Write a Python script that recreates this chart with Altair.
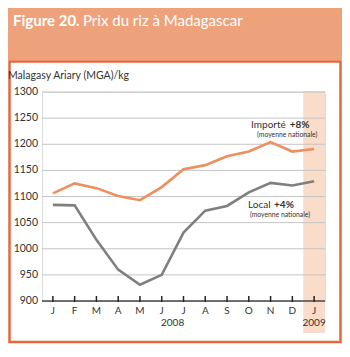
import altair as alt
import pandas as pd

months = ["J", "F", "M", "A", "M", "J", "J", "A", "S", "O", "N", "D", "J"]
imported = [1106, 1125, 1116, 1101, 1093, 1118, 1152, 1160, 1177, 1186, 1204, 1186, 1191]
local = [1084, 1083, 1017, 960, 931, 950, 1031, 1073, 1082, 1108, 1126, 1121, 1129]
y_ticks = [900, 950, 1000, 1050, 1100, 1150, 1200, 1250, 1300]
years = ["2008", "2009"]
year_pos = [5.5, 12]

FONT = "Lato"
HEADER = "#EDA27C"
BORDER = "#E4683A"
SHADE = "#F9DCCA"
ORANGE = "#EF8E5E"
GRAY = "#7F7F7F"
TXT = "#333333"

W, H = 283, 209

idx = list(range(len(months)))
lines_df = pd.DataFrame({
    "i": idx * 2,
    "v": imported + local,
    "s": ["Importé"] * len(idx) + ["Local"] * len(idx),
})

xscale = alt.Scale(domain=[-0.5, 12.5], nice=False, zero=False)
yscale = alt.Scale(domain=[900, 1300], nice=False, zero=False)

one = pd.DataFrame({"a": [0]})

header = alt.Chart(one).mark_rect(color=HEADER).encode(
    x=alt.value(-34), x2=alt.value(300), y=alt.value(-84), y2=alt.value(-32))
frame = alt.Chart(one).mark_rect(filled=False, stroke=BORDER, strokeWidth=2.5).encode(
    x=alt.value(-32.5), x2=alt.value(298.5), y=alt.value(-30.5), y2=alt.value(250))

shade = alt.Chart(pd.DataFrame({"x0": [11.5], "x1": [12.5]})).mark_rect(color=SHADE).encode(
    x=alt.X("x0:Q", scale=xscale, axis=None), x2="x1:Q",
    y=alt.value(-1), y2=alt.value(241))

grid = alt.Chart(pd.DataFrame({"g": y_ticks[1:]})).mark_rule(color="#C4C4C4", strokeWidth=1).encode(
    y=alt.Y("g:Q", scale=yscale, axis=None), x=alt.value(0), x2=alt.value(W))

base = alt.Chart(pd.DataFrame({"g": y_ticks[:1]})).mark_rule(color="#444444", strokeWidth=1.5).encode(
    y=alt.Y("g:Q", scale=yscale, axis=None), x=alt.value(0), x2=alt.value(W))

ticks = alt.Chart(pd.DataFrame({"i": idx})).mark_rule(color="#222222", strokeWidth=1.5).encode(
    x=alt.X("i:Q", scale=xscale, axis=None), y=alt.value(204), y2=alt.value(210))

xlab = alt.Chart(pd.DataFrame({"i": idx, "t": months})).mark_text(
    align="center", baseline="middle", fontSize=10, color=TXT, font=FONT).encode(
    x=alt.X("i:Q", scale=xscale, axis=None), y=alt.value(219), text="t:N")

ylab = alt.Chart(pd.DataFrame({"g": y_ticks})).mark_text(
    align="right", baseline="middle", fontSize=10.5, color=TXT, font=FONT).encode(
    y=alt.Y("g:Q", scale=yscale, axis=None), x=alt.value(-4), text="g:Q")

lines = alt.Chart(lines_df).mark_line(strokeWidth=2.6).encode(
    x=alt.X("i:Q", scale=xscale, axis=None),
    y=alt.Y("v:Q", scale=yscale, axis=None),
    color=alt.Color("s:N", scale=alt.Scale(domain=["Importé", "Local"], range=[ORANGE, GRAY]),
                    legend=None),
)

ann_n = pd.DataFrame({"x": [10.7, 10.0], "y": [1231, 1078], "t": ["Importé", "Local"]})
ann_b = pd.DataFrame({"x": [10.88, 10.16], "y": [1231, 1078], "t": ["+8%", "+4%"]})
annn = alt.Chart(ann_n).mark_text(align="right", baseline="alphabetic", fontSize=10,
                                  color=TXT, font=FONT).encode(
    x=alt.X("x:Q", scale=xscale, axis=None), y=alt.Y("y:Q", scale=yscale, axis=None), text="t:N")
annb = alt.Chart(ann_b).mark_text(align="left", baseline="alphabetic", fontSize=10,
                                  fontWeight="bold", color=TXT, font=FONT).encode(
    x=alt.X("x:Q", scale=xscale, axis=None), y=alt.Y("y:Q", scale=yscale, axis=None), text="t:N")

sub_df = pd.DataFrame({"x": [9.38, 9.05], "y": [1217.5, 1064], "t": ["(moyenne nationale)"] * 2})
sub = alt.Chart(sub_df).mark_text(align="left", baseline="middle", fontSize=6.8,
                                  color=TXT, font=FONT).encode(
    x=alt.X("x:Q", scale=xscale, axis=None), y=alt.Y("y:Q", scale=yscale, axis=None),
    text="t:N")

yr = alt.Chart(pd.DataFrame({"x": year_pos, "t": years})).mark_text(
    align="center", baseline="middle", fontSize=10, color=TXT, font=FONT).encode(
    x=alt.X("x:Q", scale=xscale, axis=None), y=alt.value(231), text="t:N")

ytitle = alt.Chart(one).mark_text(align="left", baseline="middle", fontSize=10.5,
                                  color=TXT, font=FONT, text="Malagasy Ariary (MGA)/kg").encode(
    x=alt.value(-34), y=alt.value(-16))

t1 = alt.Chart(one).mark_text(align="left", baseline="alphabetic", fontSize=15, fontWeight="bold",
                              color="white", font=FONT, text="Figure 20.").encode(
    x=alt.value(-29), y=alt.value(-66))
t2 = alt.Chart(one).mark_text(align="left", baseline="alphabetic", fontSize=15,
                              color="white", font=FONT, text="Prix du riz à Madagascar").encode(
    x=alt.value(41), y=alt.value(-66))

chart = alt.layer(header, frame, shade, grid, base, ticks, xlab, ylab, lines,
                  annn, annb, sub, yr, ytitle, t1, t2).properties(
    width=W, height=H,
    autosize=alt.AutoSizeParams(type="none"),
    padding={"left": 34, "top": 84, "right": 17, "bottom": 43},
).configure_view(stroke=None).configure(font=FONT)

chart.save("out.html", embed_options={"renderer": "svg", "actions": False})
